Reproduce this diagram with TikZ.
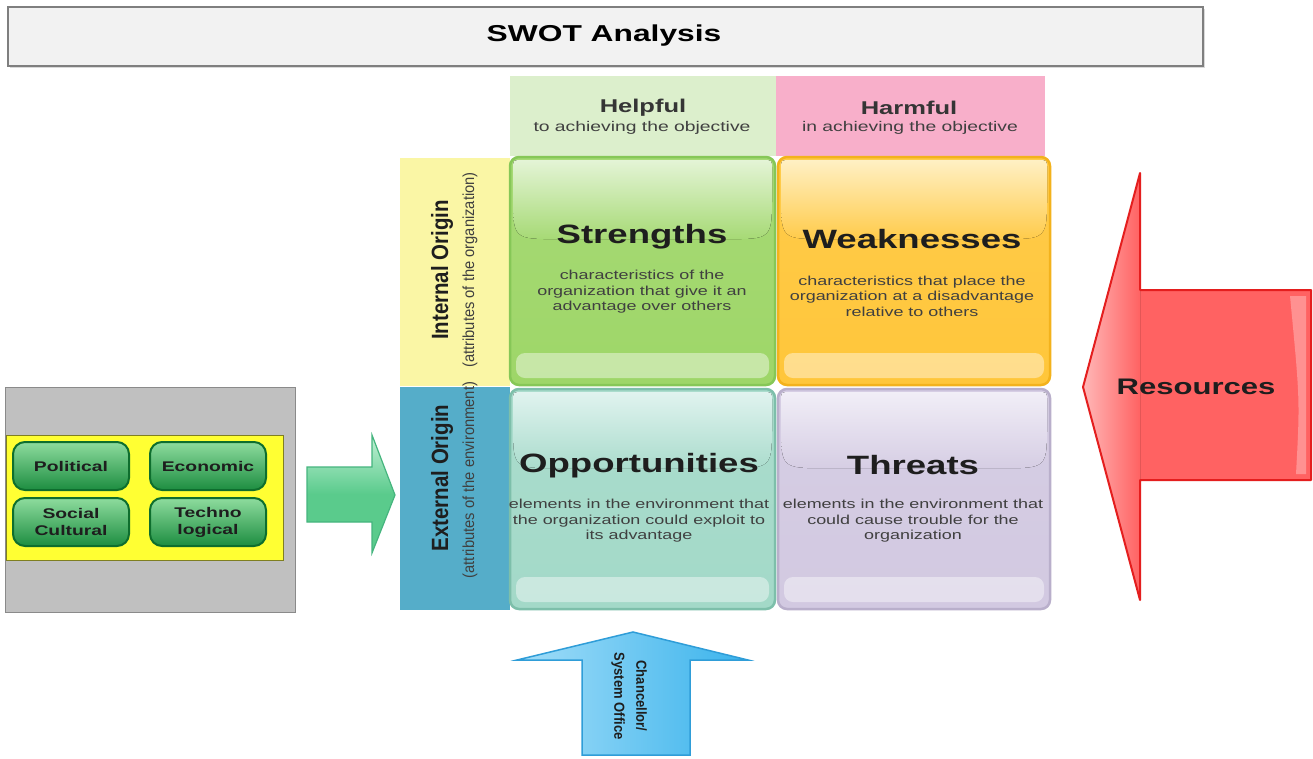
\documentclass[tikz,border=0pt]{standalone}
\usepackage{fontspec}
\setmainfont{Liberation Sans}
\newfontfamily\wf{Liberation Sans}[FakeStretch=1.38]
\newfontfamily\nfA{Liberation Sans}[FakeStretch=0.87]
\newfontfamily\nfB{Liberation Sans}[FakeStretch=0.92]
\newfontfamily\nfC{Liberation Sans}[FakeStretch=0.9]
\definecolor{titlebg}{HTML}{F2F2F2}
\definecolor{titlebd}{HTML}{7F7F7F}
\definecolor{helpbg}{HTML}{DCEFCC}
\definecolor{harmbg}{HTML}{F8AFCA}
\definecolor{intbg}{HTML}{FAF6A5}
\definecolor{extbg}{HTML}{55ADC9}
\definecolor{sG}{HTML}{9ED668}\definecolor{sL}{HTML}{E4F4D6}\definecolor{sB}{HTML}{86C757}
\definecolor{wG}{HTML}{FFC63A}\definecolor{wL}{HTML}{FFF0C4}\definecolor{wB}{HTML}{F3B21C}
\definecolor{oG}{HTML}{A3D9C8}\definecolor{oL}{HTML}{E0F3EF}\definecolor{oB}{HTML}{7DBFAA}
\definecolor{tG}{HTML}{D2C9E1}\definecolor{tL}{HTML}{F1EEF7}\definecolor{tB}{HTML}{B9AFCB}
\definecolor{graybg}{HTML}{C0C0C0}
\definecolor{graybd}{HTML}{8A8A8A}
\definecolor{ylw}{HTML}{FFFF33}
\definecolor{ylwbd}{HTML}{7F7F20}
\definecolor{btnG}{HTML}{22A64C}\definecolor{btnL}{HTML}{8EDC9E}\definecolor{btnB}{HTML}{0E6E2E}
\definecolor{gaG}{HTML}{5ACB8C}\definecolor{gaL}{HTML}{C2F0D6}\definecolor{gaB}{HTML}{45B57E}
\definecolor{baG}{HTML}{3AB3EC}\definecolor{baL}{HTML}{A2DDF8}\definecolor{baB}{HTML}{2F9DD8}
\definecolor{raG}{HTML}{FF6262}\definecolor{raL}{HTML}{FFB8B8}\definecolor{raB}{HTML}{E41E1E}
\definecolor{txt}{HTML}{1E1E1E}
% #1 x1, #2 y1, #3 x2, #4 y2, #5 base, #6 light, #7 border
\newcommand\glosscell[7]{%
  \draw[draw=#7, line width=2.5, rounded corners=9, top color=#5!88!#6, bottom color=#5] (#1,#2) rectangle (#3,#4);
  \fill[top color=#6, bottom color=#5!88!#6]
     ({#1+3},{#2+12}) .. controls ({#1+3},{#2+3}) .. ({#1+12},{#2+3}) -- ({#3-12},{#2+3})
     .. controls ({#3-3},{#2+3}) .. ({#3-3},{#2+12}) -- ({#3-3},{#2+0.36*(#4-#2)-45})
     .. controls ({#3-3},{#2+0.36*(#4-#2)}) .. ({#3-48},{#2+0.36*(#4-#2)}) -- ({#1+48},{#2+0.36*(#4-#2)})
     .. controls ({#1+3},{#2+0.36*(#4-#2)}) .. ({#1+3},{#2+0.36*(#4-#2)-45}) -- cycle;
  \fill[white, opacity=0.42, rounded corners=9] ({#1+6},{#4-32}) rectangle ({#3-6},{#4-7});
}
\tikzset{
  celltitle/.style={font=\wf\bfseries\fontsize{26.5}{30}\selectfont, text=txt},
  celldesc/.style={font=\wf\fontsize{13}{15.5}\selectfont, align=center, text=txt!85},
  headtitle/.style={font=\wf\bfseries\fontsize{18.5}{21}\selectfont, text=txt!90},
  headsub/.style={font=\wf\fontsize{14}{16}\selectfont, text=txt!85},
  btn/.style={draw=btnB, line width=2, rounded corners=12, top color=btnL, middle color=btnG, bottom color=btnG!85!black,
     minimum width=116, minimum height=48, align=center, inner sep=0,
     font=\wf\bfseries\fontsize{14}{17}\selectfont, text=txt},
  origT/.style={rotate=90, font=\nfA\bfseries\fontsize{23.5}{26}\selectfont, text=txt},
  origS/.style={rotate=90, font=\nfB\fontsize{16}{18}\selectfont, text=txt!85},
}
\begin{document}
\begin{tikzpicture}[x=1pt,y=-1pt]
\useasboundingbox (0,0) rectangle (1313,758);
\fill[white] (0,0) rectangle (1313,758);

% title bar
\fill[black!15] (10,9) rectangle (1205,68);
\draw[titlebd, fill=titlebg, line width=1.2] (8,7) rectangle (1203,66);
\node[font=\wf\bfseries\fontsize{23}{26}\selectfont, text=black] (title) at (604,36) {SWOT Analysis};

% column headers
\fill[helpbg] (510,76) rectangle (776,156);
\fill[harmbg] (776,76) rectangle (1045,156);
\node[headtitle] (helpT) at (643,108) {Helpful};
\node[headsub] (helpS) at (642,128) {to achieving the objective};
\node[headtitle] (harmT) at (909,108) {Harmful};
\node[headsub] (harmS) at (910,128) {in achieving the objective};

% row headers
\fill[intbg] (400,158) rectangle (510,386);
\fill[extbg] (400,387) rectangle (510,610);
\node[origT] (intT) at (442,270) {Internal Origin};
\node[origS] (intS) at (470,270) {(attributes of the organization)};
\node[origT] (extT) at (442,478) {External Origin};
\node[origS] (extS) at (470,480) {(attributes of the environment)};

% quadrants
\glosscell{510}{157}{775}{385}{sG}{sL}{sB}
\glosscell{778}{157}{1050}{385}{wG}{wL}{wB}
\glosscell{510}{389}{775}{609}{oG}{oL}{oB}
\glosscell{778}{389}{1050}{609}{tG}{tL}{tB}

\node[celltitle] (sT) at (642,237) {Strengths};
\node[celldesc] (sD) at (642,292) {characteristics of the\\organization that give it an\\advantage over others};
\node[celltitle] (wT) at (912,239) {Weaknesses};
\node[celldesc] (wD) at (912,296) {characteristics that place the\\organization at a disadvantage\\relative to others};
\node[celltitle] (oT) at (639,466) {Opportunities};
\node[celldesc] (oD) at (639,521) {elements in the environment that\\the organization could exploit to\\its advantage};
\node[celltitle] (tT) at (913,465) {Threats};
\node[celldesc] (tD) at (913,521) {elements in the environment that\\could cause trouble for the\\organization};

% PEST panel
\draw[graybd, fill=graybg, line width=1] (5,387) rectangle (295,612);
\draw[ylwbd, fill=ylw, line width=0.8] (6,435) rectangle (283,560);
\node[btn] (pol) at (71,466) {Political};
\node[btn] (eco) at (208,466) {Economic};
\node[btn] (soc) at (71,522) {Social\\Cultural};
\node[btn] (tec) at (208,522) {Techno\\logical};

% green arrow
\draw[gaB, line width=1.2, top color=gaL, bottom color=gaG, middle color=gaG]
  (307,467) -- (372,467) -- (372,435) -- (395,495) -- (372,553) -- (372,522) -- (307,522) -- cycle;

% blue arrow
\draw[baB, line width=1.5, left color=baL, right color=baG]
  (582,755) -- (582,660) -- (517,660) -- (633,632) -- (748,660) -- (690,660) -- (690,755) -- cycle;
\node[rotate=-90, align=center, font=\nfC\bfseries\fontsize{14.5}{22}\selectfont, text=txt] (chan) at (629,696) {Chancellor/\\System Office};

% red arrow
\fill[raG]
  (1311,290) -- (1140,290) -- (1140,173) -- (1083,387) -- (1140,600) -- (1140,480) -- (1311,480) -- cycle;
\fill[left color=raL, right color=raG] (1140,173) -- (1083,387) -- (1140,600) -- cycle;
\fill[white, opacity=0.3] (1290,296) -- (1306,296) -- (1306,474) -- (1296,474) .. controls (1300,400) .. (1290,296) -- cycle;
\draw[raB, line width=2, line join=round]
  (1311,290) -- (1140,290) -- (1140,173) -- (1083,387) -- (1140,600) -- (1140,480) -- (1311,480) -- cycle;
\node[font=\wf\bfseries\fontsize{22.5}{25}\selectfont, text=txt] (res) at (1196,387) {Resources};
\end{tikzpicture}
\end{document}
